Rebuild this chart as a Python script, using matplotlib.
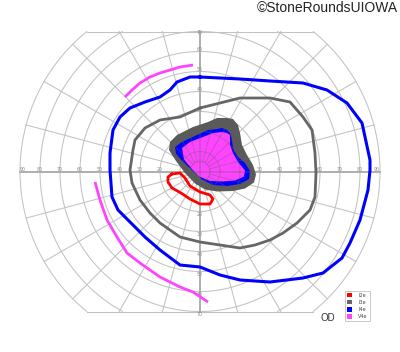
import numpy as np
import matplotlib
matplotlib.use("Agg")
import matplotlib.pyplot as plt
from matplotlib.patches import Polygon, Patch

# ---------------- data (visual-field degrees: x = temporal/nasal, y = superior/inferior) -------------
ring_radii = [5, 10, 20, 30, 40, 50, 60, 70, 80, 90]
meridians = list(range(0, 360, 15))
h_labels = [20, 30, 40, 50, 60, 70, 80, 90]
v_labels = [20, 30, 40, 50, 60, 70]

legend_names = ["I2e", "I3e", "I4e", "V4e"]
legend_colors = ["#ff0000", "#666666", "#0000ff", "#ff44ff"]

# I4e isopter (blue)
i4e_x = [0, -5, -11.5, -15, -20, -27.5, -35, -40, -43.5, -45, -45, -44, -41, -35, -27.5, -20, -10, 0,
         10, 20, 35, 51.5, 61.5, 71, 75, 80, 84, 85, 85, 81, 73.5, 63.5, 51.5, 35, 20, 0]
i4e_y = [47.25, 47.25, 44.75, 40.75, 37.25, 34.75, 31.75, 27.25, 20.75, 9.25, 0.75, -12.75, -19.25,
         -25.25, -32.75, -39.25, -46.75, -47.75, -51.75, -54.25, -55.25, -53.25, -50.75, -43.25,
         -35.75, -24.25, -9.25, 0.75, 5.75, 24.25, 34.25, 40.75, 44.25, 45.25, 46.25, 47.25]

# I3e isopter (gray)
i3e_x = [0, -10, -20, -27.5, -32.5, -33.5, -35, -34, -30, -25, -20, -10, 0, 10, 20, 27.5, 35, 41.5,
         48.5, 55, 57.5, 58, 57.5, 56, 51.5, 45, 35, 20, 10, 0]
i3e_y = [31.75, 27.25, 25.75, 21.75, 15.75, 10.75, 0.75, -5.75, -14.25, -20.75, -25.75, -32.75,
         -35.25, -36.75, -38.25, -36.75, -34.25, -30.75, -25.75, -19.25, -12.75, -0.75, 9.25, 20.75,
         27.25, 34.75, 36.75, 36.75, 34.25, 31.75]

# I2e island (red)
i2e_x = [-14, -10, -7.5, -5, 0, 5, 6.5, 5, 0, -5, -9.5, -14, -16, -16, -14]
i2e_y = [-1.25, -0.75, -3.25, -7.25, -10.25, -11.75, -13.75, -16.25, -16.25, -13.75, -10.75, -8.25,
         -5.25, -2.75, -1.25]

# V4e partial isopters (magenta)
v4e_top_x = [-37.5, -34, -30, -25, -20, -15, -10, -3.5]
v4e_top_y = [37.25, 40.75, 44.25, 47.25, 49.25, 50.75, 52.25, 53.25]
v4e_low_x = [-52.5, -50, -46.5, -41.5, -36.5, -30, -25, -20, -10, -3.5, 4]
v4e_low_y = [-5.25, -14.25, -24.25, -32.75, -40.75, -45.75, -49.25, -52.75, -57.75, -60.25, -65.25]

# central scotomas (filled)
sc_i3e_x = [-15, -11.5, -3.5, 4, 8.5, 13.5, 16.5, 19, 20, 21, 23.5, 26.5, 28, 27, 22.5, 16.5, 8.5,
            2.5, -2.5, -7.5, -12, -15.5]
sc_i3e_y = [14.75, 18.25, 22.25, 24.75, 26.75, 26.75, 26.25, 23.25, 19.25, 13.25, 8.25, 3.25, -1.5,
            -5.5, -8.5, -9.75, -10.0, -9.0, -6.0, -0.75, 5.25, 10.75]
sc_i4e_x = [-12.5, -9, -1.5, 4, 8.5, 11, 13.5, 15, 16, 16.5, 19, 22.5, 25, 24.5, 20, 13.5, 6.5, 1.0,
            -4.0, -9.0, -12.0]
sc_i4e_y = [12.25, 14.75, 18.25, 20.75, 21.25, 21.75, 20.75, 19.25, 15.75, 11.75, 7.25, 4.25, 0.25,
            -3.75, -6.25, -7.25, -6.75, -4.0, 0.75, 5.25, 9.0]
sc_v4e_x = [-9, -5, 1.5, 6.5, 11, 13.5, 15, 15, 16.5, 19, 22.5, 22, 17.5, 11.5, 5, -0.5, -4.5, -8.0]
sc_v4e_y = [11.75, 14.75, 17.25, 19.25, 19.75, 19.25, 18.25, 13.25, 9.25, 4.75, 0.5, -2.5, -4.5,
            -5.0, -4.75, -2.5, 1.75, 6.0]

# ---------------- figure -------------
fig = plt.figure(figsize=(4.0, 3.52), dpi=100)
ax = fig.add_axes([0, 0, 1, 1])
ax.set_xlim(-100, 100)
ax.set_ylim(-90.25, 85.75)
ax.axis("off")

YMAX = 70.0
RMAX = 90.0
grid_c = "#c2c2c2"
axis_c = "#a8a8a8"


def draw_grid(zorder, color, lw, alpha=1.0, clip=None):
    arts = []
    th = np.linspace(0, 2 * np.pi, 721)
    for r in ring_radii:
        x = r * np.cos(th)
        y = r * np.sin(th)
        y = np.where(np.abs(y) <= YMAX + 1e-9, y, np.nan)
        arts += ax.plot(x, y, color=color, lw=lw, alpha=alpha, zorder=zorder)
    for m in meridians:
        t = np.deg2rad(m)
        s = abs(np.sin(t))
        rmax = RMAX if s < 1e-9 else min(RMAX, YMAX / s)
        if m % 90 == 0:
            continue
        arts += ax.plot([5 * np.cos(t), rmax * np.cos(t)], [5 * np.sin(t), rmax * np.sin(t)],
                        color=color, lw=lw, alpha=alpha, zorder=zorder)
    xe = np.sqrt(RMAX ** 2 - YMAX ** 2)
    for yy in (YMAX, -YMAX):
        arts += ax.plot([-xe, xe], [yy, yy], color=color, lw=lw, alpha=alpha, zorder=zorder)
    if clip is not None:
        for a in arts:
            a.set_clip_path(clip)
    return arts


draw_grid(1, grid_c, 0.75)
ax.plot([-RMAX, RMAX], [0, 0], color=axis_c, lw=1.3, zorder=1.2)
ax.plot([0, 0], [-YMAX, YMAX], color=axis_c, lw=1.3, zorder=1.2)

for v in h_labels:
    xpos = v if v < 90 else 88.5
    for sgn in (-1, 1):
        ax.text(sgn * xpos, 1.0, str(v), fontsize=3.4, color="#8a8a8a", ha="center", va="center",
                zorder=1.5)
for v in v_labels:
    ax.text(0, v - 0.6 if v == 70 else v + 0.8, str(v), fontsize=3.4, color="#8a8a8a", ha="center",
            va="center", zorder=1.5)
    ax.text(0, -v - 1.5, str(v), fontsize=3.4, color="#8a8a8a", ha="center", va="center", zorder=1.5)

# filled central scotomas
p3 = Polygon(np.column_stack([sc_i3e_x, sc_i3e_y]), closed=True, fc="#5a5a5a", ec="none", zorder=2)
p4 = Polygon(np.column_stack([sc_i4e_x, sc_i4e_y]), closed=True, fc="#0000ff", ec="none", zorder=2.1)
pv = Polygon(np.column_stack([sc_v4e_x, sc_v4e_y]), closed=True, fc="#ff44ff", ec="none", zorder=2.2)
for p in (p3, p4, pv):
    ax.add_patch(p)

# grid faintly visible through the fills
clip_patch = Polygon(np.column_stack([sc_i3e_x, sc_i3e_y]), closed=True, transform=ax.transData)
draw_grid(2.5, "#606060", 0.75, alpha=0.35, clip=clip_patch)
for xs, ys in (([-RMAX, RMAX], [0, 0]), ([0, 0], [-YMAX, YMAX])):
    l, = ax.plot(xs, ys, color="#606060", lw=1.2, alpha=0.35, zorder=2.5)
    l.set_clip_path(clip_patch)

# isopter lines
ax.plot(i4e_x, i4e_y, color="#0000ff", lw=2.2, zorder=4, solid_joinstyle="round")
ax.plot(i3e_x, i3e_y, color="#666666", lw=2.0, zorder=3.5, solid_joinstyle="round")
ax.plot(i2e_x, i2e_y, color="#ff0000", lw=2.0, zorder=4.2, solid_joinstyle="round")
ax.plot(v4e_top_x, v4e_top_y, color="#ff44ff", lw=2.0, zorder=4.1, solid_capstyle="butt")
ax.plot(v4e_low_x, v4e_low_y, color="#ff44ff", lw=2.0, zorder=4.1, solid_capstyle="butt")

# legend
handles = [Patch(facecolor=c, edgecolor="none", label=n) for n, c in zip(legend_names, legend_colors)]
leg = ax.legend(handles=handles, loc="upper left", bbox_to_anchor=(345 / 400, 1 - 291 / 352),
                fontsize=3.5, frameon=True, handlelength=1.0, handleheight=1.0, handletextpad=1.4,
                labelspacing=0.45, borderpad=0.35, borderaxespad=0, fancybox=False)
leg.get_frame().set_edgecolor("#bbbbbb")
leg.get_frame().set_linewidth(0.7)
for t in leg.get_texts():
    t.set_color("#444444")

fig.text(328 / 400, 1 - 318 / 352, "OD", fontsize=7, family="Liberation Sans", color="#333333",
         ha="center", va="center")
fig.text(398 / 400, 1 - 8 / 352, "\u00a9StoneRoundsUIOWA", fontsize=10, family="Liberation Sans",
         color="#222222", ha="right", va="center")

fig.savefig("out.png", dpi=100)
